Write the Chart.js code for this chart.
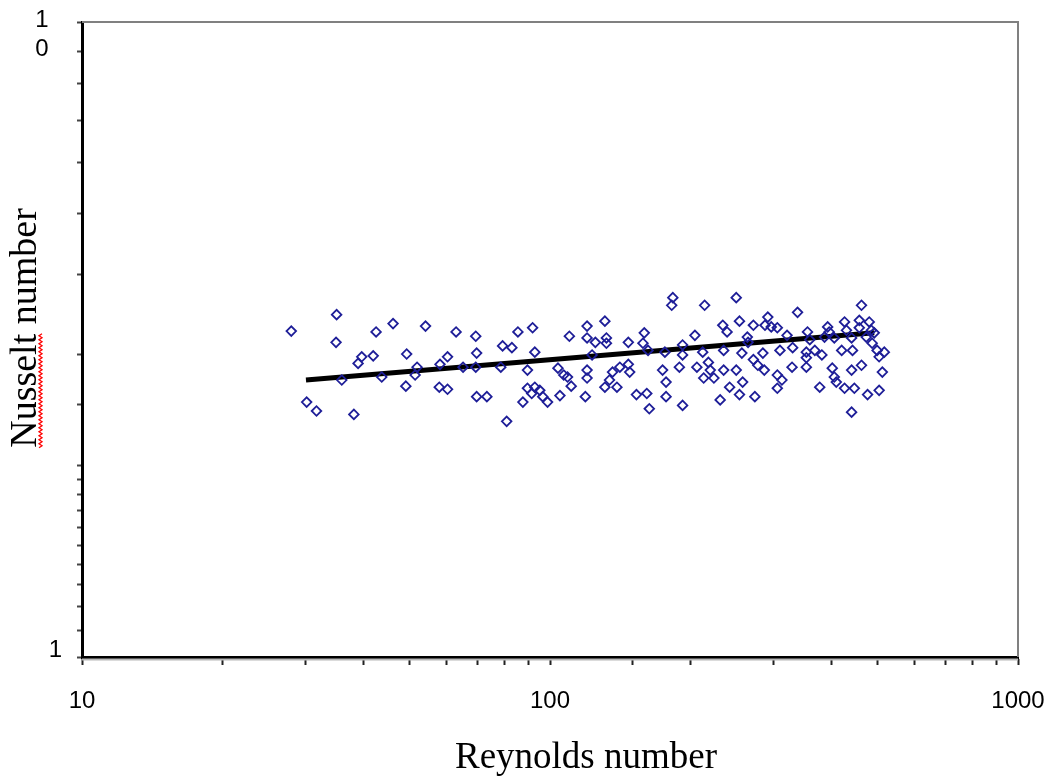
<!DOCTYPE html>
<html>
<head>
<meta charset="utf-8">
<script src="https://cdn.jsdelivr.net/npm/chart.js@4.4.1/dist/chart.umd.min.js"></script>
<style>
  html, body { margin: 0; padding: 0; background: #fff; }
</style>
</head>
<body>
<canvas id="grafico" width="1052" height="781"></canvas>
<script>
// valores (Re x Nu, escala log-log)
const reynolds = [
  28.0, 30.2, 31.7, 35.0, 34.9, 35.9, 38.1, 38.9, 39.6, 41.9,
  42.5, 43.7, 46.2, 49.4, 49.2, 51.5, 52.0, 54.2, 58.2, 60.4,
  58.0, 60.4, 63.0, 65.2, 69.4, 69.7, 69.4, 69.7, 73.3, 78.5,
  79.2, 82.9, 80.8, 85.4, 87.5, 89.5, 89.5, 91.8, 92.8, 92.8,
  95.1, 91.4, 96.5, 98.8, 104, 107, 109, 105, 110, 111,
  119, 120, 120, 120, 120, 123, 125, 131, 132, 132,
  131, 134, 136, 139, 141, 147, 147, 148, 153, 159,
  158, 161, 163, 162, 174, 176, 177, 177, 183, 182,
  189, 192, 192, 192, 204, 206, 212, 213, 214, 218,
  220, 224, 231, 234, 235, 235, 239, 242, 250, 250,
  254, 254, 257, 258, 264, 265, 272, 272, 274, 278,
  287, 288, 292, 285, 297, 306, 306, 313, 306, 310,
  321, 329, 330, 338, 353, 353, 353, 355, 359, 368,
  377, 381, 386, 392, 395, 401, 405, 405, 409, 420,
  426, 430, 426, 441, 441, 441, 443, 447, 458, 458,
  463, 463, 474, 477, 481, 486, 488, 493, 500, 505,
  505, 513, 518
];
const nusselt = [
  3.26, 2.52, 2.44, 3.46, 3.13, 2.73, 2.41, 2.90, 2.97, 2.98,
  3.25, 2.76, 3.35, 3.00, 2.67, 2.78, 2.86, 3.32, 2.89, 2.97,
  2.66, 2.64, 3.25, 2.86, 3.20, 3.01, 2.86, 2.57, 2.57, 2.86,
  3.09, 3.07, 2.35, 3.25, 2.52, 2.83, 2.65, 3.30, 3.02, 2.66,
  2.63, 2.60, 2.57, 2.52, 2.85, 2.78, 2.76, 2.58, 3.20, 2.67,
  2.57, 3.18, 3.32, 2.83, 2.75, 2.99, 3.13, 3.38, 3.18, 3.12,
  2.66, 2.73, 2.81, 2.66, 2.86, 3.13, 2.89, 2.81, 2.59, 3.24,
  3.12, 2.60, 2.46, 3.04, 2.83, 3.02, 2.71, 2.57, 3.68, 3.58,
  2.86, 3.10, 2.99, 2.49, 3.21, 2.86, 3.02, 2.75, 3.58, 2.91,
  2.83, 2.75, 2.54, 3.33, 3.04, 2.83, 3.25, 2.66, 3.68, 2.83,
  3.38, 2.59, 3.01, 2.71, 3.19, 3.13, 3.33, 2.94, 2.57, 2.88,
  2.83, 3.33, 3.43, 3.01, 3.31, 3.30, 2.78, 2.73, 2.65, 3.04,
  3.21, 2.86, 3.07, 3.49, 3.02, 2.96, 2.86, 3.25, 3.16, 3.04,
  2.66, 2.99, 3.19, 3.31, 3.25, 2.85, 3.18, 2.76, 2.71, 3.04,
  3.37, 3.27, 2.65, 3.18, 2.83, 2.43, 3.04, 2.65, 3.39, 3.30,
  3.58, 2.88, 3.19, 2.59, 3.37, 3.27, 3.12, 3.24, 3.04, 2.97,
  2.63, 2.81, 3.02
];
// reta de ajuste (extremos)
const ajusteRe = [30.1, 493];
const ajusteNu = [2.73, 3.24];

const xTickValores = [10, 100, 1000];
const xTickTextos = ['10', '100', '1000'];
const yTickValores = [1, 10];
const yTickTextos = ['1', '10'];

const tituloX = 'Reynolds number';
const tituloY = 'Nusselt number';
const palavraSublinhada = 'Nusselt';

const AZUL = '#1e1e98';

function achaIndice(lista, v) {
  return lista.findIndex(t => Math.abs(t - v) < t * 1e-6);
}

const pontos = reynolds.map((re, i) => ({ x: re, y: nusselt[i] }));
const ajuste = ajusteRe.map((re, i) => ({ x: re, y: ajusteNu[i] }));

// moldura cinza (topo/direita) + títulos dos eixos
const moldura = {
  id: 'moldura',
  beforeDatasetsDraw(chart) {
    const { ctx, chartArea: a } = chart;
    ctx.save();
    ctx.strokeStyle = '#808080';
    ctx.lineWidth = 2;
    ctx.beginPath();
    ctx.moveTo(a.left, a.top);
    ctx.lineTo(a.right, a.top);
    ctx.lineTo(a.right, a.bottom);
    ctx.stroke();
    // sombra cinza sob o eixo x
    ctx.strokeStyle = '#b8b8b8';
    ctx.beginPath();
    ctx.moveTo(a.left, a.bottom + 2.5);
    ctx.lineTo(a.right, a.bottom + 2.5);
    ctx.stroke();
    ctx.restore();
  },
  afterDraw(chart) {
    const ctx = chart.ctx;
    ctx.save();
    ctx.fillStyle = '#000';
    ctx.font = '37px "Liberation Serif"';
    ctx.textBaseline = 'alphabetic';
    ctx.textAlign = 'center';
    ctx.fillText(tituloX, 586, 768);

    ctx.font = '38px "Liberation Serif"';
    ctx.translate(36, 328);
    ctx.rotate(-Math.PI / 2);
    ctx.fillText(tituloY, 0, 0);
    // sublinhado ondulado vermelho (corretor ortográfico)
    const W = ctx.measureText(tituloY).width;
    const w = ctx.measureText(palavraSublinhada).width;
    const x0 = -W / 2;
    ctx.strokeStyle = '#ff0000';
    ctx.lineWidth = 1.3;
    ctx.beginPath();
    for (let x = 0, k = 0; x <= w; x += 2, k++) {
      const y = (k % 2 === 0) ? 3 : 6;
      if (k === 0) ctx.moveTo(x0 + x, y); else ctx.lineTo(x0 + x, y);
    }
    ctx.stroke();
    ctx.restore();
  }
};

new Chart(document.getElementById('grafico'), {
  type: 'scatter',
  data: {
    datasets: [
      {
        label: 'Dados',
        data: pontos,
        pointStyle: 'rectRot',
        pointRadius: 4.8,
        borderColor: AZUL,
        borderWidth: 1.8,
        backgroundColor: 'rgba(255,255,255,0)',
        order: 0
      },
      {
        type: 'line',
        label: 'Ajuste',
        data: ajuste,
        borderColor: '#000',
        borderWidth: 5,
        pointRadius: 0,
        order: 1
      }
    ]
  },
  options: {
    responsive: false,
    animation: false,
    layout: { padding: { top: 22, right: 34, left: 0, bottom: 0 } },
    plugins: { legend: { display: false }, tooltip: { enabled: false } },
    scales: {
      x: {
        type: 'logarithmic',
        min: 10,
        max: 1000,
        afterFit: s => { s.height = 124; s.paddingLeft = 0; s.paddingRight = 0; },
        border: { color: '#000', width: 3 },
        grid: { drawOnChartArea: false, tickLength: 8, tickWidth: 2, color: '#222' },
        ticks: {
          autoSkip: false,
          maxRotation: 0,
          padding: 22,
          color: '#000',
          font: { family: 'Liberation Sans', size: 24 },
          callback: v => {
            const i = achaIndice(xTickValores, v);
            return i >= 0 ? xTickTextos[i] : '';
          }
        }
      },
      y: {
        type: 'logarithmic',
        min: 1,
        max: 10,
        afterFit: s => { s.width = 82; s.paddingTop = 0; s.paddingBottom = 0; },
        border: { color: '#000', width: 3 },
        grid: { drawOnChartArea: false, tickLength: 5, tickWidth: 2, color: '#444' },
        ticks: {
          autoSkip: false,
          padding: 15,
          labelOffset: -2,
          color: '#000',
          font: c => ({
            family: 'Liberation Sans',
            size: 24,
            lineHeight: (c.tick && c.tick.value >= 10) ? '29px' : '10px'
          }),
          callback: v => {
            const i = achaIndice(yTickValores, v);
            if (i < 0) return '';
            const t = yTickTextos[i];
            // rótulo "10" quebrado em duas linhas, como no original
            if (t.length > 1) return [''].concat(t.split('').map(ch => ch + '  '));
            return [t, ''];
          }
        }
      }
    }
  },
  plugins: [moldura]
});
</script>
</body>
</html>
